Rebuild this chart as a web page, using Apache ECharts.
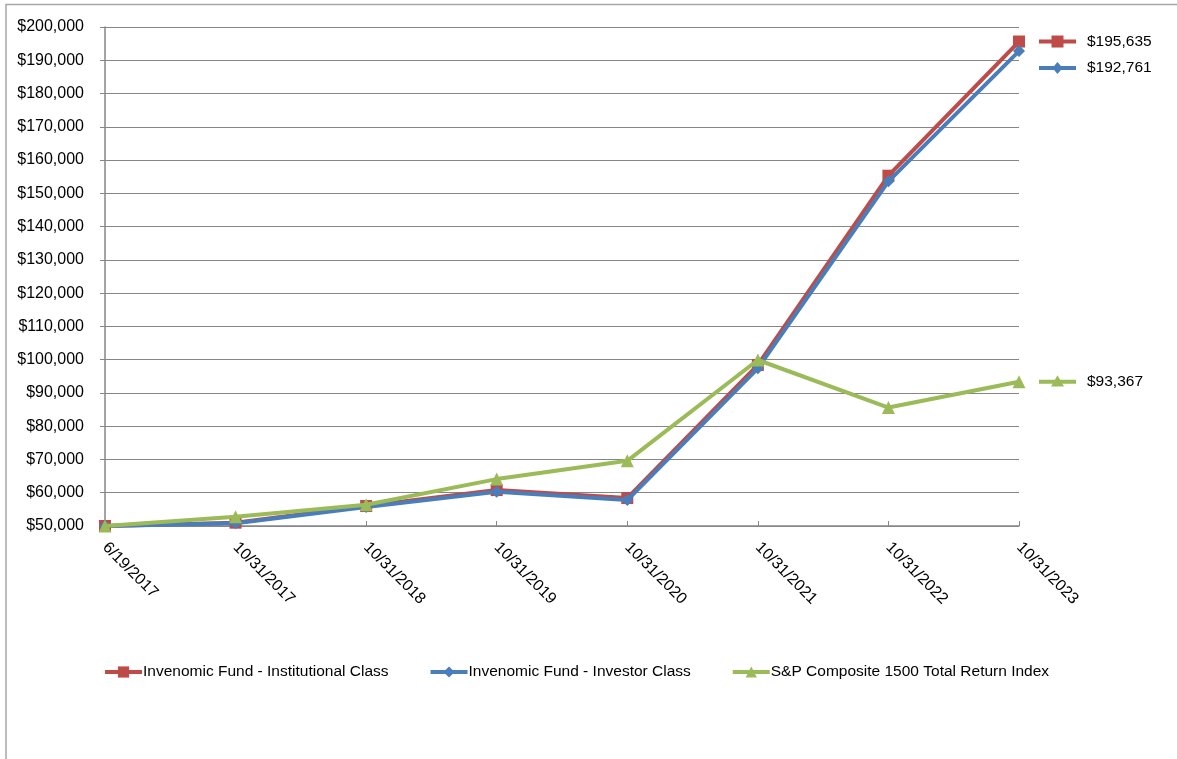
<!DOCTYPE html>
<html>
<head>
<meta charset="utf-8">
<script src="https://cdn.jsdelivr.net/npm/echarts@6/dist/echarts.min.js"></script>
<style>
html,body{margin:0;padding:0;background:#fff;}
#chart{width:1177px;height:759px;}
</style>
</head>
<body>
<div id="chart"></div>
<script>
const categories = ['6/19/2017','10/31/2017','10/31/2018','10/31/2019','10/31/2020','10/31/2021','10/31/2022','10/31/2023'];
const seriesNames = ['Invenomic Fund - Institutional Class','Invenomic Fund - Investor Class','S&P Composite 1500 Total Return Index'];
const institutional = [50000, 51000, 56000, 60800, 58400, 98400, 155300, 195635];
const investor = [50000, 50800, 55700, 60300, 57800, 97400, 153600, 192761];
const sp1500 = [50000, 52800, 56400, 64100, 69600, 99900, 85600, 93367];
const yTicks = {min: 50000, max: 200000, interval: 10000};

const colors = ['#BE4B48', '#4A7EBB', '#9BBB59'];
const symbols = ['rect', 'diamond', 'triangle'];
const symbolSizes = [12, 12, 13];
const labelShift = [0, 17, 0];
const FONT = 'Liberation Sans';
const fmt = v => '$' + Math.round(v).toLocaleString('en-US');

const allData = [institutional, investor, sp1500];

const lineSeries = allData.map((d, i) => ({
  name: seriesNames[i],
  type: 'line',
  data: d,
  symbol: symbols[i],
  symbolSize: symbolSizes[i],
  lineStyle: {width: 4, color: colors[i]},
  itemStyle: {color: colors[i]},
  emphasis: {disabled: true},
  animation: false,
  z: 2 + i
}));

function markerShape(kind, cx, cy, s, color) {
  const h = s / 2;
  if (kind === 'rect') return {type: 'rect', shape: {x: cx - h, y: cy - h, width: s, height: s}, style: {fill: color}};
  if (kind === 'diamond') return {type: 'polygon', shape: {points: [[cx, cy - h], [cx + h * 0.85, cy], [cx, cy + h], [cx - h * 0.85, cy]]}, style: {fill: color}};
  return {type: 'polygon', shape: {points: [[cx, cy - h], [cx + h, cy + h * 0.75], [cx - h, cy + h * 0.75]]}, style: {fill: color}};
}

const endLabelSeries = {
  name: 'endLabels',
  type: 'custom',
  clip: false,
  animation: false,
  silent: true,
  data: allData.map((d, i) => [d.length - 1, d[d.length - 1], i]),
  renderItem: function (params, api) {
    const idx = api.value(2);
    const p = api.coord([api.value(0), api.value(1)]);
    const y = p[1] + labelShift[idx];
    const x0 = p[0] + 20;
    const c = colors[idx];
    return {
      type: 'group',
      children: [
        {type: 'line', shape: {x1: x0, y1: y, x2: x0 + 37, y2: y}, style: {stroke: c, lineWidth: 4}},
        markerShape(symbols[idx], x0 + 18.5, y, symbolSizes[idx], c),
        {type: 'text', x: x0 + 48, y: y, style: {text: fmt(api.value(1)), fill: '#000', font: '15.5px "' + FONT + '"', verticalAlign: 'middle', align: 'left'}}
      ]
    };
  },
  z: 10
};

const chart = echarts.init(document.getElementById('chart'), null, {renderer: 'canvas'});
chart.setOption({
  backgroundColor: '#fff',
  animation: false,
  textStyle: {fontFamily: FONT},
  graphic: [{
    type: 'polyline',
    shape: {points: [[6, 800], [6, 4.5], [1300, 4.5]]},
    style: {fill: null, stroke: '#a6a6a6', lineWidth: 1.5},
    silent: true, z: -10
  }],
  grid: {left: 105, right: 158, top: 27, bottom: 233, containLabel: false},
  legend: {
    data: seriesNames,
    bottom: 79,
    left: 103,
    padding: 0,
    itemWidth: 37,
    itemHeight: 14,
    itemGap: 40,
    lineStyle: {width: 4},
    textStyle: {fontSize: 15.5, color: '#000', fontFamily: FONT, padding: [0, 0, 0, -4]},
    selectedMode: false
  },
  xAxis: {
    type: 'category',
    data: categories,
    boundaryGap: false,
    axisLine: {lineStyle: {color: '#868686', width: 1.5}},
    axisTick: {inside: true, length: 5, alignWithLabel: true, lineStyle: {color: '#868686'}},
    axisLabel: {rotate: -45, margin: 19, fontSize: 16, color: '#000', fontFamily: FONT, interval: 0},
    splitLine: {show: false}
  },
  yAxis: {
    type: 'value',
    min: yTicks.min,
    max: yTicks.max,
    interval: yTicks.interval,
    axisLine: {show: true, lineStyle: {color: '#868686', width: 1.5}},
    axisTick: {show: true, length: 5, lineStyle: {color: '#868686'}},
    axisLabel: {margin: 21, fontSize: 16, color: '#000', fontFamily: FONT, formatter: v => fmt(v)},
    splitLine: {lineStyle: {color: '#868686', width: 1.2}}
  },
  series: lineSeries.concat([endLabelSeries])
});
</script>
</body>
</html>
